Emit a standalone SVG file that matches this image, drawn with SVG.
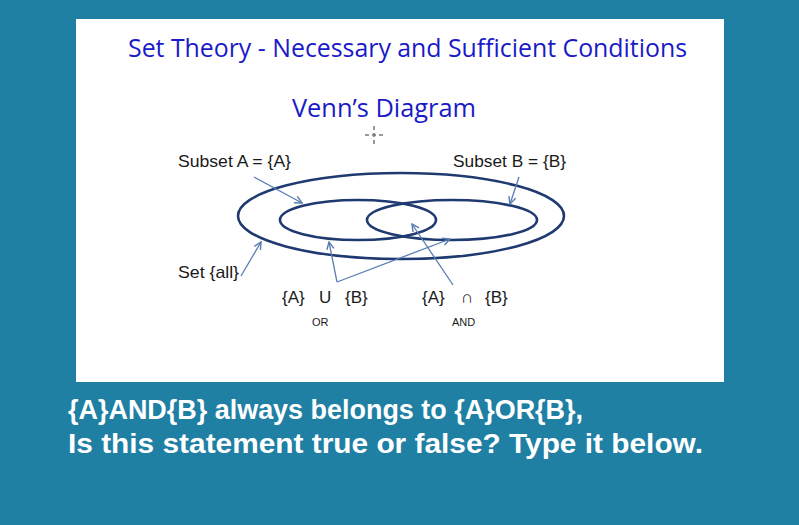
<svg xmlns="http://www.w3.org/2000/svg" width="799" height="525" viewBox="0 0 799 525">
<defs>
<style>
.title{font-family:"Open Sans","Noto Sans",sans-serif;fill:#1a1ac8;font-size:26px}
.lbl{font-family:"Liberation Sans",Arial,sans-serif;fill:#1a1a1a;font-size:17px}
.small{font-family:"Liberation Sans",Arial,sans-serif;fill:#1a1a1a;font-size:11px}
.q{font-family:"Liberation Sans",Arial,sans-serif;fill:#ffffff;font-size:28px;font-weight:bold}
.set{fill:none;stroke:#1f3a70;stroke-width:2.6}
.conn{fill:none;stroke:#5a7db3;stroke-width:1.3}
</style>
<marker id="ah" viewBox="0 0 10 10" refX="9" refY="5" markerWidth="9" markerHeight="9" markerUnits="userSpaceOnUse" orient="auto">
<path d="M1,1 L9,5 L1,9" fill="none" stroke="#5a7db3" stroke-width="1.6"/>
</marker>
</defs>
<rect x="0" y="0" width="799" height="525" fill="#1f80a4"/>
<rect x="76" y="19" width="648" height="363" fill="#ffffff"/>
<text class="title" x="128" y="57" textLength="559" lengthAdjust="spacingAndGlyphs">Set Theory - Necessary and Sufficient Conditions</text>
<text class="title" x="292" y="117" textLength="184" lengthAdjust="spacingAndGlyphs">Venn’s Diagram</text>
<g id="cursor" stroke="#555" stroke-width="1.2">
<line x1="374" y1="126" x2="374" y2="130"/>
<line x1="374" y1="140" x2="374" y2="144"/>
<line x1="365" y1="135" x2="369" y2="135"/>
<line x1="379" y1="135" x2="383" y2="135"/>
<circle cx="374" cy="135" r="1.2" fill="none"/>
</g>
<g id="set-all"><ellipse class="set" cx="401" cy="216" rx="163" ry="43"/></g>
<g id="subset-a"><ellipse class="set" cx="358" cy="220" rx="78" ry="20"/></g>
<g id="subset-b"><ellipse class="set" cx="452" cy="220" rx="85" ry="20"/></g>
<g id="labels">
<text class="lbl" x="178" y="167" textLength="113" lengthAdjust="spacingAndGlyphs">Subset A = {A}</text>
<text class="lbl" x="453" y="167" textLength="113" lengthAdjust="spacingAndGlyphs">Subset B = {B}</text>
<text class="lbl" x="178" y="278" textLength="61" lengthAdjust="spacingAndGlyphs">Set {all}</text>
<text class="lbl" x="282" y="303">{A}</text>
<text class="lbl" x="319" y="303">U</text>
<text class="lbl" x="345" y="303">{B}</text>
<text class="small" x="312" y="326">OR</text>
<text class="lbl" x="422" y="303">{A}</text>
<text class="lbl" x="461" y="303" fill="#777">∩</text>
<text class="lbl" x="485" y="303">{B}</text>
<text class="small" x="452" y="326">AND</text>
</g>
<g id="connectors">
<line class="conn" x1="254" y1="177" x2="302" y2="203" marker-end="url(#ah)"/>
<line class="conn" x1="519" y1="177" x2="510" y2="204" marker-end="url(#ah)"/>
<line class="conn" x1="241" y1="276" x2="261" y2="242" marker-end="url(#ah)"/>
<line class="conn" x1="337" y1="282" x2="329" y2="242" marker-end="url(#ah)"/>
<line class="conn" x1="337" y1="282" x2="450" y2="239" marker-end="url(#ah)"/>
<line class="conn" x1="453" y1="285" x2="412" y2="224" marker-end="url(#ah)"/>
</g>
<text class="q" x="68" y="419" textLength="515" lengthAdjust="spacingAndGlyphs">{A}AND{B} always belongs to {A}OR{B},</text>
<text class="q" x="68" y="453" textLength="635" lengthAdjust="spacingAndGlyphs">Is this statement true or false? Type it below.</text>
</svg>
